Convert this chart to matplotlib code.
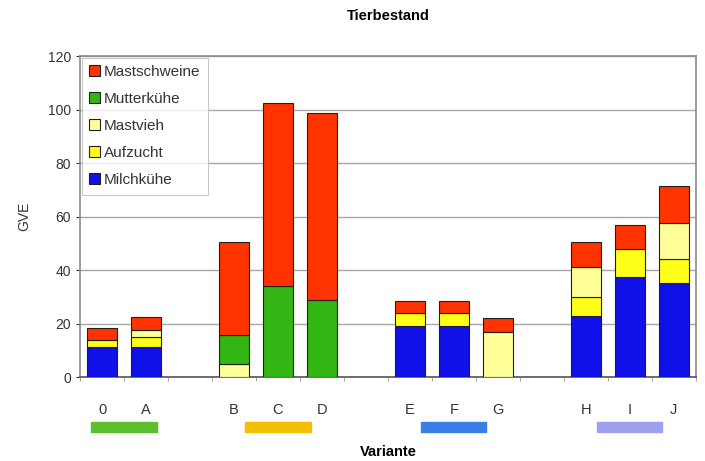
import numpy as np
import matplotlib
matplotlib.use('Agg')
from matplotlib import pyplot as plt
import matplotlib.transforms as mtransforms

plt.rcParams['font.family'] = ['Liberation Sans', 'DejaVu Sans']

# categories, empty slots separate the groups
variants = ['0', 'A', '', 'B', 'C', 'D', '', 'E', 'F', 'G', '', 'H', 'I', 'J']
milchkuehe = [11.2, 11.2, 0, 0, 0, 0, 0, 19, 19, 0, 0, 23, 37.5, 35]
aufzucht = [2.5, 3.8, 0, 0, 0, 0, 0, 4.8, 4.8, 0, 0, 7, 10.2, 9]
mastvieh = [0, 2.6, 0, 4.9, 0, 0, 0, 0, 0, 17, 0, 11.2, 0, 13.7]
mutterkuehe = [0, 0, 0, 10.8, 34, 29, 0, 0, 0, 0, 0, 0, 0, 0]
mastschweine = [4.8, 4.9, 0, 34.9, 68.5, 69.6, 0, 4.7, 4.7, 5.2, 0, 9.4, 9.3, 13.7]

series = [('Milchkühe', milchkuehe, '#1010e8'),
          ('Aufzucht', aufzucht, '#ffff1a'),
          ('Mastvieh', mastvieh, '#ffff99'),
          ('Mutterkühe', mutterkuehe, '#33b514'),
          ('Mastschweine', mastschweine, '#ff3300')]

# groups marked by coloured strips below the axis (first, last index)
groups = [(0, 1, '#5cc02a'), (3, 5, '#f5c000'), (7, 9, '#3a7ee8'), (11, 13, '#a0a0f0')]

fig = plt.figure(figsize=(7.05, 4.61), dpi=100)
ax = fig.add_axes([0.1135, 0.182, 0.8735, 0.6965])

x = np.arange(len(variants))
bottom = np.zeros(len(variants))
handles = []
for name, vals, col in series:
    vals = np.array(vals, dtype=float)
    m = vals > 0
    b = ax.bar(x[m], vals[m], 0.68, bottom=bottom[m], color=col, edgecolor='#202020',
               linewidth=0.8, label=name, zorder=3)
    handles.append(b)
    bottom += vals

ax.set_xlim(-0.5, len(variants) - 0.5)
ax.set_ylim(0, 120)
ax.set_yticks(range(0, 121, 20))
ax.yaxis.grid(True, color='#a8a8a8', linewidth=1)
ax.set_axisbelow(True)

ax.set_xticks(x)
ax.set_xticklabels(variants, fontsize=10.5, color='#333333')
ax.tick_params(axis='x', length=0, pad=19)
ax.set_xticks(np.arange(-0.5, len(variants), 1), minor=True)
ax.tick_params(axis='x', which='minor', length=3, color='#999999')
ax.tick_params(axis='y', labelsize=10, colors='#333333', length=3, width=0.8)

for s in ['top', 'right', 'left']:
    ax.spines[s].set_color('#8a8a8a')
    ax.spines[s].set_linewidth(1.2)
ax.spines['bottom'].set_color('#555555')
ax.spines['bottom'].set_linewidth(1.2)

ax.set_title('Tierbestand', fontsize=10.5, fontweight='bold', pad=26)
ax.set_xlabel('Variante', fontsize=10.5, fontweight='bold', labelpad=20)
ax.set_ylabel('GVE', fontsize=10, color='#333333', labelpad=12)

trans = mtransforms.blended_transform_factory(ax.transData, ax.transAxes)
for first, last, col in groups:
    mid = (first + last) / 2
    ax.add_patch(plt.Rectangle((mid - 0.74, -0.172), 1.48, 0.031, transform=trans,
                               color=col, clip_on=False))

leg = ax.legend(handles[::-1], [s[0] for s in series][::-1], loc='upper left',
                bbox_to_anchor=(0.0, 1.0), fontsize=11, frameon=True, fancybox=False,
                handlelength=0.7, handleheight=0.7, handletextpad=0.25,
                labelspacing=0.85, borderpad=0.5, borderaxespad=0.1)
leg.get_frame().set_edgecolor('#bbbbbb')
leg.get_frame().set_linewidth(0.8)
for t in leg.get_texts():
    t.set_color('#333333')

fig.savefig('out.png', dpi=100)
